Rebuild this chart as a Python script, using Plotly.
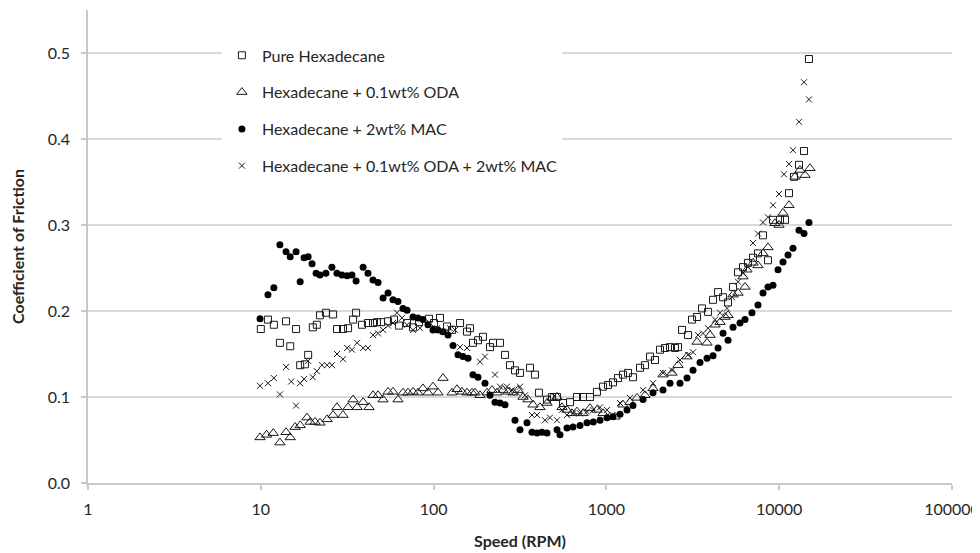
import plotly.graph_objects as go

# ---- Data ----
pure_rpm = [10, 11.0, 11.9, 12.9, 14.0, 14.8, 16.0, 16.9, 18.0, 18.8, 20.0, 21.1, 22.0, 23.8, 26.2, 27.6, 29.9, 32.0,
            34.2, 35.6, 38.5, 41.7, 44.6, 47.0, 49.6, 54.5, 59.0, 63.0, 70.2, 76.0, 82.3, 94.0, 100.5, 108.9, 119.6,
            127.8, 142.2, 156.1, 162.4, 169, 180.7, 193, 212, 220.7, 242.3, 259, 276.7, 295.8, 316.2, 361.3, 386,
            407, 453, 484, 518, 561, 616, 676, 732, 804, 882, 956, 1022, 1092, 1167, 1248, 1334, 1425, 1565, 1673,
            1788, 1911, 2043, 2183, 2334, 2495, 2597, 2739, 2968, 3130, 3346, 3577, 3875, 4141, 4427, 4733, 5058,
            5407, 5776, 6174, 6598, 7053, 7538, 8058, 8613, 9206, 10107, 10805, 11395, 12181, 13020, 13918, 14870]
pure_cof = [0.179, 0.190, 0.184, 0.163, 0.188, 0.159, 0.179, 0.137, 0.138, 0.149, 0.181, 0.184, 0.195, 0.198, 0.196,
            0.179, 0.179, 0.180, 0.190, 0.198, 0.184, 0.186, 0.186, 0.187, 0.187, 0.188, 0.190, 0.183, 0.186, 0.181,
            0.187, 0.191, 0.186, 0.192, 0.182, 0.178, 0.186, 0.176, 0.180, 0.163, 0.166, 0.170, 0.158, 0.163, 0.163,
            0.149, 0.137, 0.131, 0.128, 0.134, 0.126, 0.105, 0.097, 0.100, 0.100, 0.093, 0.094, 0.100, 0.100, 0.100,
            0.106, 0.112, 0.114, 0.117, 0.122, 0.126, 0.128, 0.123, 0.134, 0.137, 0.147, 0.143, 0.155, 0.157, 0.158,
            0.157, 0.158, 0.178, 0.172, 0.190, 0.193, 0.203, 0.199, 0.213, 0.222, 0.216, 0.210, 0.228, 0.245, 0.251,
            0.256, 0.262, 0.267, 0.288, 0.259, 0.306, 0.306, 0.306, 0.337, 0.356, 0.370, 0.386, 0.493]

oda_rpm = [9.9, 10.8, 11.8, 12.9, 14.0, 14.8, 15.8, 16.9, 18.5, 19.3, 20.6, 22.0, 24.2, 26.2, 27.6, 29.9, 32.0, 34.2,
           36.1, 39.1, 42.3, 44.6, 47.7, 51.0, 54.5, 58.2, 62.2, 66.5, 71.1, 76.0, 81.2, 86.8, 92.8, 99.2, 106.0,
           113.4, 127.8, 136.6, 146.0, 156.1, 166.8, 173.6, 185.6, 203.7, 217.8, 232.8, 252.1, 269.5, 288.0, 307.9,
           329.1, 351.8, 376.0, 412.7, 453.1, 484.3, 517.7, 553.3, 591.4, 632.2, 675.7, 732.0, 803.5, 882.1, 955.7,
           1049.1, 1121.5, 1247.7, 1369.6, 1503.6, 1672.8, 1861.1, 2126.3, 2397, 2597, 2928, 3346, 3823, 3979, 4253,
           4547, 4860, 5058, 5407, 5776, 6174, 6340, 6511, 7053, 7538, 8058, 8613, 9456, 9974, 10520, 11395, 12345,
           13196, 14105, 15075]
oda_cof = [0.053, 0.056, 0.058, 0.047, 0.059, 0.053, 0.065, 0.067, 0.076, 0.071, 0.071, 0.070, 0.074, 0.079, 0.088,
           0.079, 0.088, 0.097, 0.088, 0.094, 0.088, 0.102, 0.102, 0.097, 0.106, 0.106, 0.097, 0.105, 0.105, 0.106,
           0.105, 0.110, 0.105, 0.112, 0.105, 0.122, 0.105, 0.109, 0.106, 0.105, 0.105, 0.105, 0.102, 0.105, 0.108,
           0.105, 0.108, 0.106, 0.105, 0.108, 0.100, 0.097, 0.091, 0.088, 0.093, 0.099, 0.100, 0.088, 0.085, 0.081,
           0.083, 0.081, 0.087, 0.085, 0.081, 0.077, 0.077, 0.091, 0.094, 0.099, 0.102, 0.110, 0.126, 0.128, 0.137,
           0.147, 0.164, 0.163, 0.172, 0.184, 0.187, 0.193, 0.195, 0.219, 0.221, 0.240, 0.228, 0.248, 0.256, 0.253,
           0.267, 0.274, 0.302, 0.300, 0.314, 0.323, 0.356, 0.364, 0.358, 0.366]

mac_rpm = [9.9, 11.0, 11.9, 12.9, 14.0, 14.8, 16.0, 16.9, 17.8, 18.8, 19.8, 20.9, 22.0, 23.8, 25.8, 27.6, 29.5, 31.6,
           33.7, 35.6, 39.1, 41.7, 44.6, 47.7, 51.0, 54.5, 58.2, 62.2, 66.5, 70.2, 76.0, 81.2, 86.8, 92.8, 99.2,
           106.0, 113.4, 121.2, 129.5, 138.4, 148.0, 158.2, 169.0, 180.7, 198.3, 212.0, 226.6, 242.3, 259.0, 295.8,
           316.2, 347.1, 371.0, 396.6, 423.9, 453.1, 517.7, 538.8, 591.4, 640.7, 703.3, 772.0, 839.3, 918.2, 1008.0,
           1092.0, 1198.8, 1316, 1425, 1629, 1861, 2126, 2334, 2667, 2928, 3172, 3482, 3823, 4141, 4427, 4733, 5058,
           5407, 5931, 6340, 6959, 7538, 8058, 8613, 9206, 9842, 10520, 11245, 12020, 13020, 13918, 14870]
mac_cof = [0.191, 0.219, 0.227, 0.277, 0.269, 0.263, 0.269, 0.234, 0.262, 0.263, 0.255, 0.244, 0.242, 0.244, 0.251,
           0.244, 0.242, 0.241, 0.242, 0.235, 0.251, 0.244, 0.236, 0.233, 0.215, 0.221, 0.213, 0.211, 0.203, 0.201,
           0.193, 0.192, 0.190, 0.184, 0.178, 0.178, 0.176, 0.172, 0.160, 0.149, 0.147, 0.145, 0.126, 0.123, 0.116,
           0.102, 0.094, 0.093, 0.091, 0.073, 0.062, 0.070, 0.059, 0.058, 0.059, 0.058, 0.062, 0.056, 0.064, 0.065,
           0.067, 0.070, 0.071, 0.073, 0.076, 0.077, 0.080, 0.085, 0.090, 0.097, 0.105, 0.108, 0.116, 0.116, 0.122,
           0.131, 0.140, 0.145, 0.148, 0.157, 0.174, 0.166, 0.181, 0.186, 0.190, 0.198, 0.207, 0.221, 0.228, 0.230,
           0.248, 0.257, 0.265, 0.273, 0.294, 0.290, 0.303]

combo_rpm = [9.9, 11.0, 11.9, 12.9, 14.0, 15.0, 16.0, 16.9, 17.8, 18.8, 20.0, 21.1, 22.6, 24.2, 25.8, 27.6, 29.9, 31.6,
             33.7, 36.1, 39.1, 41.7, 44.6, 47.7, 51.0, 54.5, 58.2, 61.4, 65.6, 70.2, 76.0, 83.4, 95.3, 104.6, 113.4,
             124.4, 133.0, 142.2, 156.1, 185.6, 198.3, 226.6, 242.3, 265.9, 284.2, 303.8, 316.2, 338.0, 371.0, 396.6,
             441.2, 471.6, 517.7, 553.3, 591.4, 640.7, 703.3, 772.0, 839.3, 918.2, 1008, 1198.8, 1369.6, 1629, 1861,
             2126, 2397, 2667, 2968, 3172, 3391, 3625, 3875, 4253, 4547, 4991, 5335, 5776, 6174, 6598, 7053, 7538,
             8058, 8613, 9206, 9974, 10661, 11395, 12020, 13020, 13918, 14870]
combo_cof = [0.113, 0.116, 0.122, 0.103, 0.135, 0.118, 0.090, 0.116, 0.121, 0.142, 0.123, 0.130, 0.137, 0.137, 0.137,
             0.150, 0.144, 0.157, 0.155, 0.163, 0.157, 0.157, 0.172, 0.174, 0.178, 0.183, 0.186, 0.198, 0.192, 0.184,
             0.178, 0.180, 0.186, 0.180, 0.176, 0.180, 0.178, 0.158, 0.157, 0.141, 0.147, 0.126, 0.112, 0.112, 0.108,
             0.105, 0.112, 0.102, 0.079, 0.079, 0.073, 0.076, 0.073, 0.085, 0.079, 0.081, 0.081, 0.083, 0.085, 0.088,
             0.085, 0.093, 0.099, 0.108, 0.116, 0.128, 0.131, 0.143, 0.149, 0.152, 0.172, 0.174, 0.180, 0.190, 0.198,
             0.203, 0.216, 0.234, 0.244, 0.251, 0.279, 0.290, 0.303, 0.309, 0.323, 0.336, 0.359, 0.371, 0.387, 0.420,
             0.466, 0.446]

series_names = ["Pure Hexadecane", "Hexadecane + 0.1wt% ODA", "Hexadecane + 2wt% MAC",
                "Hexadecane + 0.1wt% ODA + 2wt% MAC"]
x_tick_vals = [1, 10, 100, 1000, 10000, 100000]
x_tick_text = ["1", "10", "100", "1000", "10000", "100000"]
y_tick_vals = [0.0, 0.1, 0.2, 0.3, 0.4, 0.5]

FONT = "Lato"
INK = "#1a1a1a"
TXT = "#262626"

fig = go.Figure()
styles = [
    dict(symbol="square-open", size=7, color=INK, line=dict(width=1, color=INK)),
    dict(symbol="triangle-up-open", size=9, color=INK, line=dict(width=1, color=INK)),
    dict(symbol="circle", size=7, color="#000000", line=dict(width=0)),
    dict(symbol="x-thin-open", size=6, color=INK, line=dict(width=1, color=INK)),
]
data = [(pure_rpm, pure_cof), (oda_rpm, oda_cof), (mac_rpm, mac_cof), (combo_rpm, combo_cof)]
for i, ((xs, ys), name, st) in enumerate(zip(data, series_names, styles)):
    fig.add_trace(go.Scatter(x=xs, y=ys, mode="markers", name=name, marker=st,
                             legendgroup=f"g{i}"))

# the page body adds an 8 px offset, so the figure is sized/margined to compensate
fig.update_layout(
    width=972, height=545,
    margin=dict(l=80, r=28, t=2, b=70, autoexpand=False),
    paper_bgcolor="white", plot_bgcolor="white",
    font=dict(family=FONT, size=16, color=TXT),
    showlegend=True,
    legend=dict(x=0.155, y=0.94, xanchor="left", yanchor="top",
                bgcolor="white", borderwidth=0, tracegroupgap=13, itemwidth=30,
                font=dict(family=FONT, size=16, color=TXT)),
    xaxis=dict(type="log", range=[0, 5], tickvals=x_tick_vals, ticktext=x_tick_text,
               automargin=False,
               showgrid=False, showline=True, linecolor="#c8c8c8", linewidth=1.5,
               ticks="outside", ticklen=5, tickcolor="#c8c8c8", tickwidth=1.5,
               ticklabelstandoff=6, zeroline=False,
               title=dict(text="<b>Speed (RPM)</b>", standoff=19,
                          font=dict(family=FONT, size=16, color=TXT))),
    yaxis=dict(range=[0, 0.55], tickvals=y_tick_vals, tickformat=".1f",
               automargin=False,
               showgrid=True, gridcolor="#d9d9d9", gridwidth=1.5,
               showline=True, linecolor="#c8c8c8", linewidth=1.5,
               ticks="outside", ticklen=5, tickcolor="#c8c8c8", tickwidth=1.5,
               ticklabelstandoff=8, zeroline=False,
               title=dict(text="<b>Coefficient of Friction</b>", standoff=20,
                          font=dict(family=FONT, size=16, color=TXT))),
)

fig.write_html("out.html")
